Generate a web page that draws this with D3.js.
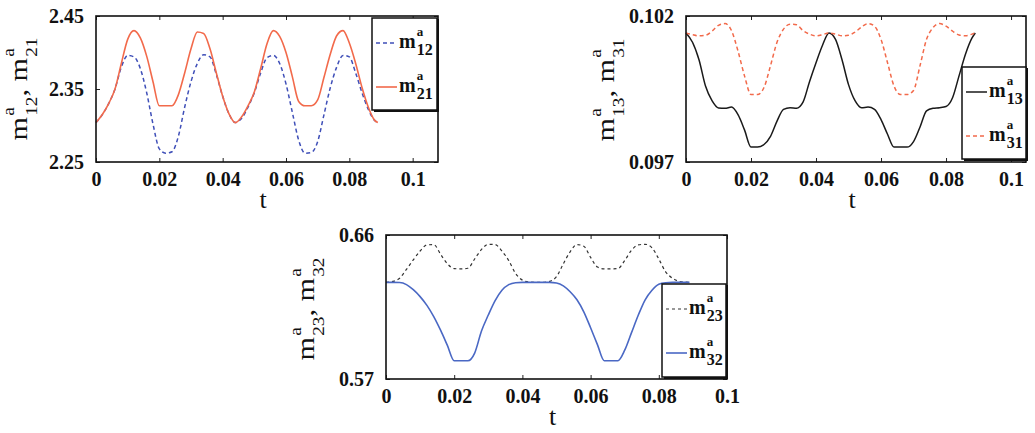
<!DOCTYPE html>
<html><head><meta charset="utf-8">
<script src="https://cdn.jsdelivr.net/npm/d3@7"></script>
<style>body{margin:0;background:#fff}svg{display:block}</style>
</head><body><svg id="c" width="1035" height="433"></svg>
<script>
// ---------- data ----------
const tGrid = [0,0.002,0.004,0.006,0.008,0.010,0.012,0.014,0.016,0.018,0.020,0.022,0.024,0.026,0.028,0.030,0.032,0.034,0.036,0.038,0.040,0.042,0.044,0.046,0.048,0.050,0.052,0.054,0.056,0.058,0.060,0.062,0.064,0.066,0.068,0.070,0.072,0.074,0.076,0.078,0.080,0.082,0.084,0.086,0.088,0.089];
const xTicks = [0,0.02,0.04,0.06,0.08,0.1];
const xTickLabels = ["0","0.02","0.04","0.06","0.08","0.1"];

// chart 1
const m12 = [2.304,2.315,2.330,2.350,2.380,2.396,2.394,2.378,2.345,2.302,2.268,2.262,2.264,2.285,2.325,2.360,2.385,2.397,2.394,2.370,2.340,2.316,2.304,2.310,2.325,2.345,2.372,2.393,2.396,2.385,2.357,2.318,2.280,2.262,2.263,2.278,2.315,2.352,2.380,2.396,2.394,2.372,2.345,2.322,2.307,2.304];
const m21 = [2.304,2.315,2.330,2.350,2.385,2.418,2.430,2.420,2.395,2.360,2.327,2.327,2.327,2.342,2.372,2.405,2.428,2.426,2.405,2.372,2.340,2.316,2.304,2.312,2.327,2.346,2.378,2.412,2.430,2.422,2.400,2.367,2.333,2.327,2.327,2.335,2.366,2.398,2.423,2.430,2.413,2.385,2.352,2.325,2.307,2.304];
const yTicks1 = [2.25,2.35,2.45];
const yTickLabels1 = ["2.25","2.35","2.45"];

// chart 2
const m13 = [0.10142,0.10110,0.10050,0.09960,0.09910,0.09885,0.09884,0.09888,0.09862,0.09810,0.09751,0.09751,0.09760,0.09788,0.09840,0.09880,0.09886,0.09884,0.09905,0.09975,0.10040,0.10100,0.10142,0.10120,0.10050,0.09965,0.09910,0.09886,0.09888,0.09880,0.09845,0.09795,0.09751,0.09751,0.09751,0.09770,0.09820,0.09875,0.09884,0.09886,0.09890,0.09920,0.09995,0.10070,0.10125,0.10142];
const m31 = [0.10142,0.10136,0.10132,0.10134,0.10148,0.10168,0.10174,0.10150,0.10080,0.09995,0.09931,0.09931,0.09955,0.10030,0.10110,0.10155,0.10172,0.10170,0.10150,0.10138,0.10132,0.10136,0.10142,0.10138,0.10132,0.10134,0.10145,0.10162,0.10174,0.10165,0.10120,0.10040,0.09960,0.09931,0.09931,0.09945,0.10030,0.10120,0.10160,0.10174,0.10165,0.10148,0.10135,0.10132,0.10138,0.10142];
const yTicks2 = [0.097,0.102];
const yTickLabels2 = ["0.097","0.102"];

// chart 3
const m23 = [0.6304,0.6310,0.6330,0.6385,0.6444,0.6500,0.6538,0.6540,0.6480,0.6420,0.6390,0.6388,0.6392,0.6450,0.6510,0.6542,0.6540,0.6500,0.6440,0.6360,0.6318,0.6306,0.6304,0.6304,0.6310,0.6340,0.6420,0.6495,0.6540,0.6530,0.6460,0.6400,0.6388,0.6388,0.6390,0.6440,0.6505,0.6538,0.6542,0.6520,0.6450,0.6370,0.6330,0.6310,0.6305,0.6304];
const m32 = [0.6304,0.6304,0.6303,0.6290,0.6258,0.6215,0.6160,0.6090,0.6005,0.5910,0.5814,0.5814,0.5814,0.5862,0.6000,0.6100,0.6190,0.6255,0.6290,0.6302,0.6304,0.6304,0.6304,0.6304,0.6304,0.6300,0.6282,0.6245,0.6195,0.6120,0.6020,0.5915,0.5814,0.5814,0.5814,0.5880,0.5990,0.6100,0.6195,0.6255,0.6292,0.6302,0.6304,0.6304,0.6304,0.6304];
const yTicks3 = [0.57,0.66];
const yTickLabels3 = ["0.57","0.66"];

// ---------- drawing ----------
const svg = d3.select("#c");
const SERIF = "Liberation Serif, Times New Roman, serif";

function mathText(g, x, y, pieces, o) {
  let cx = x;
  pieces.forEach((p, i) => {
    if (i > 0) {
      const s = g.append("text").attr("x", cx).attr("y", y).attr("font-size", o.base).attr("font-weight", o.weight).text(",\u00a0");
      cx += s.node().getComputedTextLength();
    }
    const b = g.append("text").attr("x", cx).attr("y", y).attr("font-size", o.base).attr("font-weight", o.weight).text(p.base);
    cx += b.node().getComputedTextLength() + 1;
    const sp = g.append("text").attr("x", cx).attr("y", y - o.supShift).attr("font-size", o.sup).attr("font-weight", o.weight).text(p.sup);
    const sb = g.append("text").attr("x", cx).attr("y", y + o.subShift).attr("font-size", o.sub).attr("font-weight", o.weight).text(p.sub);
    cx += Math.max(sp.node().getComputedTextLength(), sb.node().getComputedTextLength());
  });
  return cx - x;
}

function chart(cfg) {
  const x = d3.scaleLinear().domain([0, cfg.xmax]).range([cfg.left, cfg.right]);
  const y = d3.scaleLinear().domain(cfg.ydom).range([cfg.bottom, cfg.top]);
  const g = svg.append("g").style("font-family", SERIF);

  // series
  const line = d3.line().x((d, i) => x(tGrid[i])).y(d => y(d)).curve(d3.curveMonotoneX);
  cfg.series.forEach(s => {
    g.append("path").datum(s.values).attr("d", line).attr("fill", "none")
      .attr("stroke", s.color).attr("stroke-width", s.width)
      .attr("stroke-dasharray", s.dash || null);
  });

  // axes
  const bottomAxis = d3.axisBottom(x).tickValues(xTicks).tickFormat((d, i) => xTickLabels[i]).tickSizeInner(-4).tickSizeOuter(0).tickPadding(10);
  const topAxis = d3.axisTop(x).tickValues(xTicks).tickFormat("").tickSizeInner(-4).tickSizeOuter(0);
  const leftAxis = d3.axisLeft(y).tickValues(cfg.yticks).tickFormat((d, i) => cfg.ylabels[i]).tickSizeInner(-4).tickSizeOuter(0).tickPadding(12);
  const rightAxis = d3.axisRight(y).tickValues(cfg.yticks).tickFormat("").tickSizeInner(-4).tickSizeOuter(0);
  [[bottomAxis, `translate(0,${cfg.bottom})`], [topAxis, `translate(0,${cfg.top})`],
   [leftAxis, `translate(${cfg.left},0)`], [rightAxis, `translate(${cfg.right},0)`]].forEach(([ax, tr]) => {
    const a = g.append("g").attr("transform", tr).call(ax);
    a.attr("font-family", null);
    a.select(".domain").remove();
    a.selectAll(".tick line").attr("stroke", "#222").attr("stroke-width", 1);
    a.selectAll(".tick text").style("font-family", SERIF).attr("font-size", 20).attr("font-weight", "bold").attr("fill", "#111");
  });
  g.append("rect").attr("x", cfg.left).attr("y", cfg.top).attr("width", cfg.right - cfg.left).attr("height", cfg.bottom - cfg.top)
    .attr("fill", "none").attr("stroke", "#111").attr("stroke-width", 1.6);

  // x label
  g.append("text").attr("x", (cfg.left + cfg.right) / 2 - 4).attr("y", cfg.bottom + 46).attr("text-anchor", "middle")
    .attr("font-size", 26).attr("fill", "#111").text("t");

  // y label (rotated, stretched along its length to match)
  const yl = g.append("g").attr("transform", `translate(${cfg.ylabX},${cfg.ylabY}) rotate(-90)`).attr("fill", "#111");
  const inner = yl.append("g");
  const w = mathText(inner, 0, 0, cfg.ylabel, {base: 25, sup: 16, sub: 16, supShift: 13, subShift: 10, weight: "normal"});
  const k = 103 / w;
  inner.attr("transform", `scale(${k},1) translate(${-w / 2},0)`);

  // legend
  const L = cfg.legend;
  const lg = g.append("g");
  lg.append("rect").attr("x", L.x).attr("y", L.y).attr("width", L.w).attr("height", L.h).attr("fill", "#fff").attr("stroke", "#111").attr("stroke-width", 1.5);
  lg.append("path").attr("d", `M${L.x + 2},${L.y + L.h + 1}H${L.x + L.w + 1}V${L.y + 1}`).attr("fill", "none").attr("stroke", "#111").attr("stroke-width", 2);
  cfg.series.forEach((s, i) => {
    const yy = L.y + 25 + i * 44;
    lg.append("line").attr("x1", L.x + 4).attr("x2", L.x + 25).attr("y1", yy).attr("y2", yy)
      .attr("stroke", s.color).attr("stroke-width", s.width).attr("stroke-dasharray", s.dash || null);
    const tg = lg.append("g").attr("fill", "#111");
    mathText(tg, L.x + 27, yy + 5, [s.label], {base: 20, sup: 13, sub: 16, supShift: 12, subShift: 7, weight: "bold"});
  });
}

chart({
  left: 96, right: 438, top: 16, bottom: 162, xmax: 0.108, ydom: [2.25, 2.45],
  yticks: yTicks1, ylabels: yTickLabels1, ylabX: 27, ylabY: 89,
  ylabel: [{base: "m", sup: "a", sub: "12"}, {base: "m", sup: "a", sub: "21"}],
  legend: {x: 372, y: 18, w: 65, h: 92},
  series: [
    {values: m12, color: "#3f4fb8", width: 1.5, dash: "4,3", label: {base: "m", sup: "a", sub: "12"}},
    {values: m21, color: "#f26a4b", width: 1.6, label: {base: "m", sup: "a", sub: "21"}}
  ]
});
chart({
  left: 686, right: 1026, top: 16, bottom: 162, xmax: 0.1046, ydom: [0.097, 0.102],
  yticks: yTicks2, ylabels: yTickLabels2, ylabX: 614, ylabY: 90,
  ylabel: [{base: "m", sup: "a", sub: "13"}, {base: "m", sup: "a", sub: "31"}],
  legend: {x: 962, y: 67, w: 64, h: 92},
  series: [
    {values: m13, color: "#1a1a1a", width: 1.5, label: {base: "m", sup: "a", sub: "13"}},
    {values: m31, color: "#f26a4b", width: 1.5, dash: "4,3", label: {base: "m", sup: "a", sub: "31"}}
  ]
});
chart({
  left: 386, right: 727, top: 235, bottom: 379, xmax: 0.1, ydom: [0.57, 0.66],
  yticks: yTicks3, ylabels: yTickLabels3, ylabX: 314, ylabY: 309,
  ylabel: [{base: "m", sup: "a", sub: "23"}, {base: "m", sup: "a", sub: "32"}],
  legend: {x: 662, y: 284, w: 64, h: 93},
  series: [
    {values: m23, color: "#333", width: 1.2, dash: "3,3", label: {base: "m", sup: "a", sub: "23"}},
    {values: m32, color: "#4a68c4", width: 1.6, label: {base: "m", sup: "a", sub: "32"}}
  ]
});
</script></body></html>
